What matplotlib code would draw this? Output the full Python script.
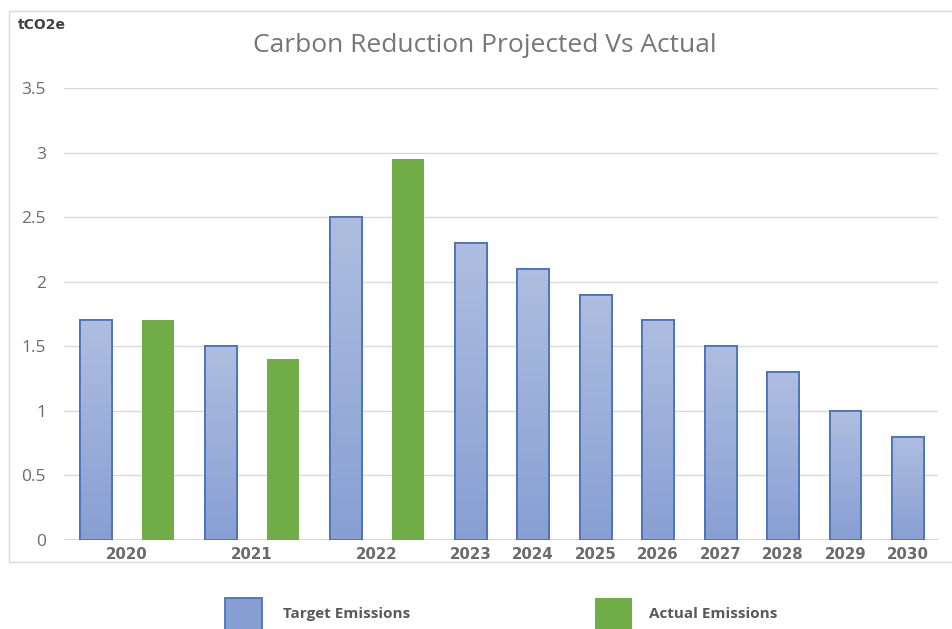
import matplotlib
matplotlib.use("Agg")
import matplotlib.pyplot as plt
import numpy as np
from matplotlib.colors import LinearSegmentedColormap
from matplotlib.patches import Rectangle

# ---- data ----
years = ["2020", "2021", "2022", "2023", "2024", "2025", "2026",
         "2027", "2028", "2029", "2030"]
target = [1.7, 1.5, 2.5, 2.3, 2.1, 1.9, 1.7, 1.5, 1.3, 1.0, 0.8]
actual_years = ["2020", "2021", "2022"]
actual = [1.7, 1.4, 2.95]
yticks = [0, 0.5, 1, 1.5, 2, 2.5, 3, 3.5]
ytick_labels = ["0", "0.5", "1", "1.5", "2", "2.5", "3", "3.5"]

# slot layout: each year with an actual value takes two slots
target_pos, actual_pos, label_pos = [], [], []
slot = 0
for y in years:
    target_pos.append(slot)
    if y in actual_years:
        actual_pos.append(slot + 1)
        label_pos.append(slot + 0.5)
        slot += 2
    else:
        label_pos.append(slot)
        slot += 1

W, H = 952, 629
fig = plt.figure(figsize=(W / 100, H / 100), dpi=100)
fig.patch.set_facecolor("white")

# outer chart border
fig.patches.append(Rectangle((9 / W, 1 - 562 / H), 960 / W, (562 - 11) / H,
                             transform=fig.transFigure, fill=False,
                             edgecolor="#d9d9d9", linewidth=1.0))

ax = fig.add_axes([64 / W, 1 - 540 / H, (938 - 64) / W, (540 - 88) / H])
for s in ax.spines.values():
    s.set_visible(False)

gray = "#6b6b6b"
bw = 0.51
blue_top, blue_bot = "#aebee0", "#889fd3"
blue_edge = "#4a72c0"
green = "#70ad47"

bars = ax.bar(target_pos, target, width=bw, color=blue_bot,
              edgecolor=blue_edge, linewidth=1.3, zorder=3)
cmap = LinearSegmentedColormap.from_list("g", [blue_bot, blue_top])
grad = np.linspace(0, 1, 256).reshape(-1, 1)
for b in bars:
    x0 = b.get_x(); h = b.get_height()
    im = ax.imshow(grad, extent=[x0, x0 + bw, 0, h], origin="lower",
                   aspect="auto", cmap=cmap, zorder=3.5)
    im.set_clip_path(b)
    edge = Rectangle((x0, 0), bw, h, fill=False, edgecolor=blue_edge,
                     linewidth=1.3, zorder=4)
    ax.add_patch(edge)

ax.bar(actual_pos, actual, width=bw, color=green, edgecolor="none", zorder=3)

ax.set_xlim(-0.51, 13.48)
ax.set_ylim(0, 3.5)
ax.set_yticks(yticks)
ax.set_yticklabels(ytick_labels, fontfamily="Open Sans", fontsize=12.5, color=gray)
ax.tick_params(axis="y", length=0, pad=13)
ax.yaxis.grid(True, color="#d9d9d9", linewidth=1.0, zorder=0)
ax.set_axisbelow(True)
ax.set_xticks(label_pos)
ax.set_xticklabels(years, fontfamily="DejaVu Sans", fontweight="bold",
                   fontsize=10.8, color=gray)
ax.tick_params(axis="x", length=0, pad=5)

ax.axhline(0, color="#d0d0d0", linewidth=1.2, zorder=2)

fig.text(485 / W, 1 - 46 / H, "Carbon Reduction Projected Vs Actual",
         ha="center", va="center", fontfamily="Open Sans", fontsize=19,
         color="#767676")
fig.text(18 / W, 1 - 25 / H, "tCO2e", ha="left", va="center",
         fontfamily="DejaVu Sans", fontweight="bold", fontsize=10, color="#404040")

# legend (below chart)
for x0, col, ec, label, tx in [(225, blue_bot, blue_edge, "Target Emissions", 283),
                               (595, green, "none", "Actual Emissions", 649)]:
    fig.patches.append(Rectangle((x0 / W, 1 - 632 / H), 37 / W, 34 / H,
                                 transform=fig.transFigure, facecolor=col,
                                 edgecolor=ec, linewidth=1.3))
    fig.text(tx / W, 1 - 614 / H, label, ha="left", va="center",
             fontfamily="Open Sans", fontweight="bold", fontsize=11,
             color="#595959")

fig.savefig("out.png", dpi=100, facecolor="white")
